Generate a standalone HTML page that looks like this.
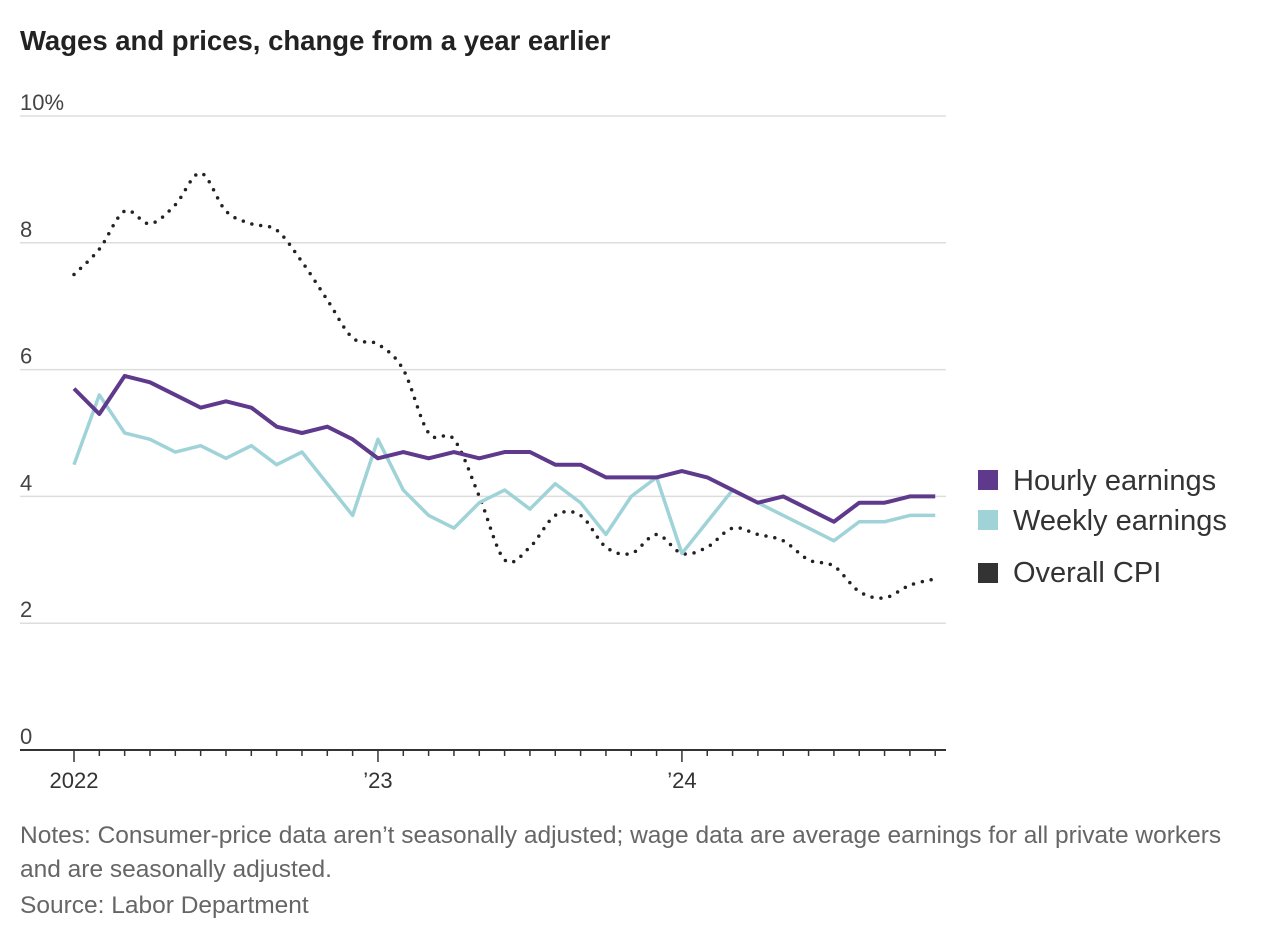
<!DOCTYPE html>
<html><head><meta charset="utf-8"><style>
body{margin:0;background:#fff;width:1288px;height:942px;overflow:hidden;font-family:"Liberation Sans",sans-serif}
</style></head><body>
<svg width="1288" height="942">
<text x="20" y="50" font-size="27.5" font-weight="bold" fill="#222">Wages and prices, change from a year earlier</text>
<g id="grid"></g><g id="axis"></g><g id="series"></g>
<g font-size="29" fill="#333">
<rect x="978" y="470" width="20" height="20" fill="#5f3a8c"/>
<text x="1013" y="490">Hourly earnings</text>
<rect x="978" y="510" width="20" height="20" fill="#9fd3d8"/>
<text x="1013" y="530">Weekly earnings</text>
<rect x="978" y="563" width="20" height="20" fill="#333"/>
<text x="1013" y="582">Overall CPI</text>
</g>
<g font-size="24.5" fill="#666">
<text x="20" y="843">Notes: Consumer-price data aren’t seasonally adjusted; wage data are average earnings for all private workers</text>
<text x="20" y="877">and are seasonally adjusted.</text>
<text x="20" y="913">Source: Labor Department</text>
</g>
</svg>
<script>
const hourly=[5.7,5.3,5.9,5.8,5.6,5.4,5.5,5.4,5.1,5.0,5.1,4.9,4.6,4.7,4.6,4.7,4.6,4.7,4.7,4.5,4.5,4.3,4.3,4.3,4.4,4.3,4.1,3.9,4.0,3.8,3.6,3.9,3.9,4.0,4.0];
const weekly=[4.5,5.6,5.0,4.9,4.7,4.8,4.6,4.8,4.5,4.7,4.2,3.7,4.9,4.1,3.7,3.5,3.9,4.1,3.8,4.2,3.9,3.4,4.0,4.3,3.1,3.6,4.1,3.9,3.7,3.5,3.3,3.6,3.6,3.7,3.7];
const cpi=[7.5,7.9,8.5,8.3,8.6,9.1,8.5,8.3,8.2,7.7,7.1,6.5,6.4,6.0,5.0,4.9,4.0,3.0,3.2,3.7,3.7,3.2,3.1,3.4,3.1,3.2,3.5,3.4,3.3,3.0,2.9,2.5,2.4,2.6,2.7];
const yTicks=[0,2,4,6,8,10];
const yLabels=["0","2","4","6","8","10%"];
const xLabelIdx=[0,12,24];
const xLabels=["2022","’23","’24"];
const NS="http://www.w3.org/2000/svg";
const x=i=>74+i*25.33, y=v=>750-v*63.4;
function mk(tag,attrs,parent){const e=document.createElementNS(NS,tag);for(const k in attrs)e.setAttribute(k,attrs[k]);document.getElementById(parent).appendChild(e);return e;}
yTicks.forEach((t,i)=>{
 if(t>0){const l=mk('line',{x1:20,x2:946,y1:y(t),y2:y(t),stroke:'#ddd','stroke-width':1.5},'grid');
 
 }
 const tx=mk('text',{x:20,y:y(t)-6,'font-size':22,fill:'#444'},'grid');tx.textContent=yLabels[i];
 
 
});
const ax=mk('line',{x1:20,x2:946,y1:750,y2:750,stroke:'#333','stroke-width':2},'axis');


for(let i=0;i<hourly.length;i++){
 const big=xLabelIdx.includes(i);
 const tk=mk('line',{x1:x(i),x2:x(i),y1:750,y2:big?762:756,stroke:'#333','stroke-width':1.5},'axis');
 
 
}
xLabelIdx.forEach((idx,j)=>{
 const t=mk('text',{x:x(idx),y:788,'font-size':22,fill:'#333','text-anchor':'middle'},'axis');t.textContent=xLabels[j];
 
 
});
function lin(d){return d.map((v,i)=>(i?'L':'M')+x(i)+','+y(v)).join('');}
function smooth(d){const p=d.map((v,i)=>[x(i),y(v)]);let s='M'+p[0];for(let i=0;i<p.length-1;i++){const a=p[i-1]||p[i],b=p[i],c=p[i+1],e=p[i+2]||c;s+=`C${b[0]+(c[0]-a[0])/6},${b[1]+(c[1]-a[1])/6} ${c[0]-(e[0]-b[0])/6},${c[1]-(e[1]-b[1])/6} ${c[0]},${c[1]}`;}return s;}
const c=mk('path',{d:smooth(cpi),fill:'none',stroke:'#222','stroke-width':3.5,'stroke-dasharray':'0 9','stroke-linecap':'round'},'series');


const w=mk('path',{d:lin(weekly),fill:'none',stroke:'#9fd3d8','stroke-width':3.5,'stroke-linejoin':'round'},'series');


const h=mk('path',{d:lin(hourly),fill:'none',stroke:'#5f3a8c','stroke-width':4,'stroke-linejoin':'round'},'series');


</script>
</body></html>
